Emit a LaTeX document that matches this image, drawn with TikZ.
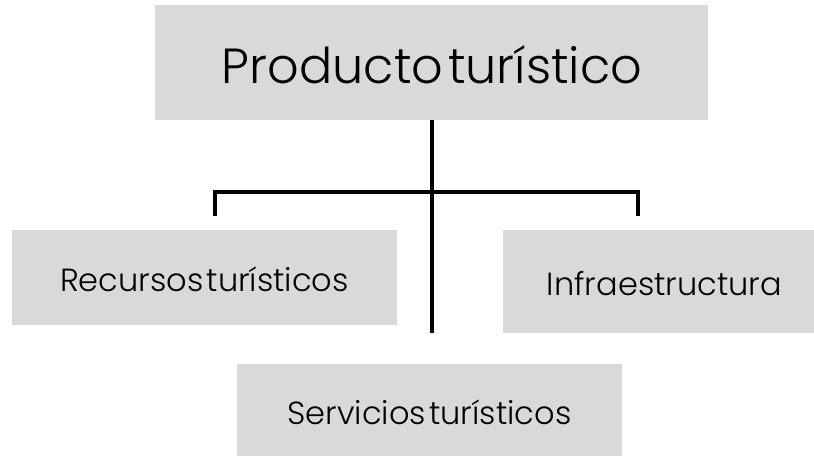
\documentclass[tikz,border=0pt]{standalone}
\usepackage{fontspec}
\setmainfont{Poppins}[UprightFont=* Light]
\usepackage{tikz}
\usepackage{xcolor}
\definecolor{cajagris}{RGB}{217,217,217}

\begin{document}
\begin{tikzpicture}[x=0.75pt,y=-0.75pt,
        caja/.style={fill=cajagris,inner sep=0pt,align=center},
        linea/.style={line width=3pt}]
        \useasboundingbox (0,0) rectangle (814,456);

        % Top - main product
        \node[caja,minimum width=414.75pt,minimum height=86.25pt] (producto) at (431.5,62.5) {};
        \node (tprod) at (432,65) {\fontsize{37}{42}\selectfont\spaceskip=0.1em Producto turístico};

        % Second row - resources and infrastructure
        \node[caja,minimum width=288.75pt,minimum height=71.25pt] (recursos) at (204.5,277.5) {};
        \node (trec) at (204.5,279) {\fontsize{24}{28}\selectfont\spaceskip=0.1em Recursos turísticos};
        \node[caja,minimum width=233.25pt,minimum height=77.25pt] (infra) at (658.5,281.5) {};
        \node (tinf) at (664.5,284) {\fontsize{24}{28}\selectfont Infraestructura};

        % Bottom - services
        \node[caja,minimum width=288.75pt,minimum height=69pt] (servicios) at (429.5,410) {};
        \node (tserv) at (429.5,412) {\fontsize{24}{28}\selectfont\spaceskip=0.1em Servicios turísticos};

        % Connectors
        \coordinate (tronco) at (432,333);
        \coordinate (barra) at (432,192);
        \coordinate (izq) at (215,216);
        \coordinate (der) at (638,216);
        \draw[linea] (producto.south -| tronco) -- (tronco);
        \draw[linea] (izq) |- (barra) -| (der);
\end{tikzpicture}
\end{document}
